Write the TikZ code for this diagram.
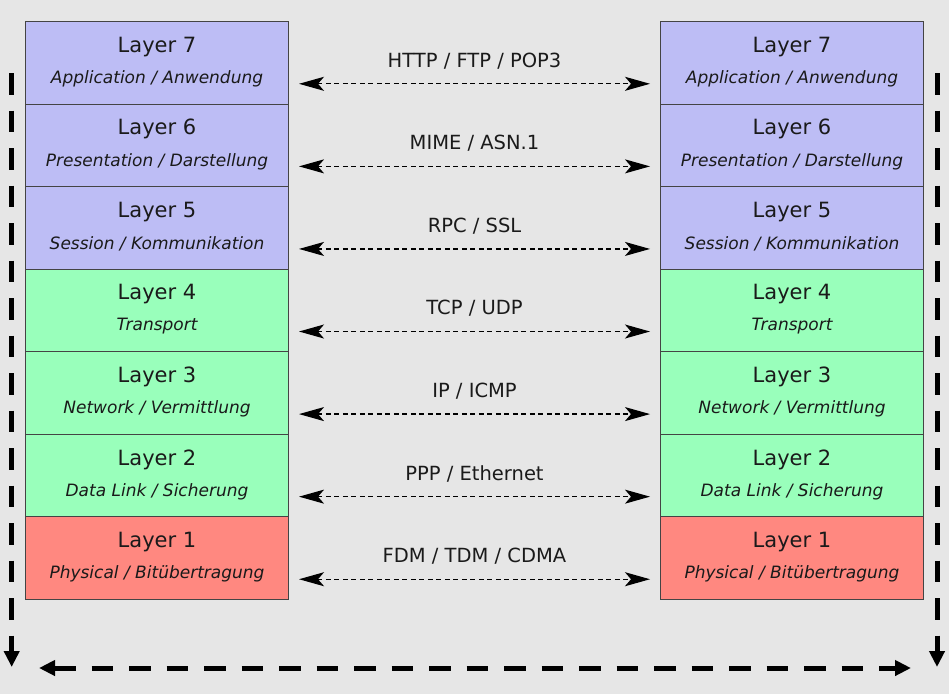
\documentclass[tikz,border=0pt]{standalone}
\usepackage{fontspec}
\setmainfont{DejaVu Sans}
\usetikzlibrary{arrows.meta,calc}
\definecolor{bgc}{RGB}{230,230,230}
\definecolor{bluec}{RGB}{189,189,245}
\definecolor{greenc}{RGB}{153,255,187}
\definecolor{redc}{RGB}{255,136,128}
\definecolor{edgec}{RGB}{68,68,68}
\definecolor{txtc}{RGB}{26,26,26}
\tikzset{
  layerbox/.style={draw=edgec, line width=1pt, minimum width=263pt, minimum height=82.6pt, inner sep=0pt, anchor=north west},
  titletxt/.style={text=txtc, font=\fontsize{21}{24}\selectfont, inner sep=0pt},
  subtxt/.style={text=txtc, font=\fontsize{17}{20}\selectfont\itshape, inner sep=0pt},
  prototxt/.style={text=txtc, font=\fontsize{19.5}{22}\selectfont, inner sep=0pt},
  protoarrow/.style={line width=1.3pt, dash pattern=on 5pt off 3.5pt, {Stealth[length=25pt,width=14pt,inset=6pt]}-{Stealth[length=25pt,width=14pt,inset=6pt]}},
  flowline/.style={line width=5pt, dash pattern=on 21.5pt off 16pt}
}
\begin{document}
\begin{tikzpicture}[x=1pt,y=-1pt]
\useasboundingbox[fill=bgc] (0,0) rectangle (949,694);
\foreach \n/\c/\t/\s [count=\i from 0] in {
  7/bluec/{Layer 7}/{Application / Anwendung},
  6/bluec/{Layer 6}/{Presentation / Darstellung},
  5/bluec/{Layer 5}/{Session / Kommunikation},
  4/greenc/{Layer 4}/{Transport},
  3/greenc/{Layer 3}/{Network / Vermittlung},
  2/greenc/{Layer 2}/{Data Link / Sicherung},
  1/redc/{Layer 1}/{Physical / Bitübertragung}}{
  \node[layerbox, fill=\c] (L\n) at (25,{21+82.57*\i}) {};
  \node[layerbox, fill=\c] (R\n) at (660,{21+82.57*\i}) {};
  \node[titletxt] (L\n t) at ([yshift=16pt]L\n.center) {\t};
  \node[subtxt] (L\n s) at ([yshift=-16pt]L\n.center) {\s};
  \node[titletxt] (R\n t) at ([yshift=16pt]R\n.center) {\t};
  \node[subtxt] (R\n s) at ([yshift=-16pt]R\n.center) {\s};
}
\foreach \n/\p in {7/{HTTP / FTP / POP3}, 6/{MIME / ASN.1}, 5/{RPC / SSL}, 4/{TCP / UDP}, 3/{IP / ICMP}, 2/{PPP / Ethernet}, 1/{FDM / TDM / CDMA}}{
  \node[prototxt] (P\n) at ([yshift=2pt]$(L\n.east)!0.5!(R\n.west)$) {\p};
  \draw[protoarrow] ([xshift=10pt,yshift=-21pt]L\n.east) -- ([xshift=-10pt,yshift=-21pt]R\n.west);
}
\coordinate (lt) at (11.7,73);
\coordinate (lb) at (11.7,667);
\coordinate (rt) at (937,73);
\coordinate (rb) at (937,667);
\coordinate (hl) at (39,668);
\coordinate (hr) at (911,668);
\draw[flowline, -{Triangle[length=16pt,width=15pt]}] (lt) -- (lb);
\draw[flowline, -{Triangle[length=16pt,width=15pt]}] (rt) -- (rb);
\draw[flowline, {Triangle[length=16pt,width=15pt]}-{Triangle[length=16pt,width=15pt]}] (hl) -- (hr);
\end{tikzpicture}
\end{document}
